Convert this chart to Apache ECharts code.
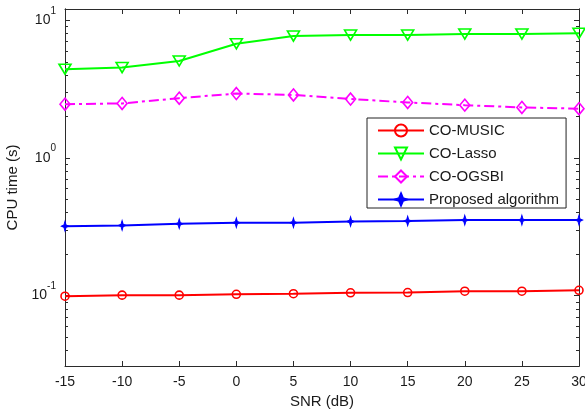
<!DOCTYPE html>
<html>
<head>
<meta charset="utf-8">
<script src="https://cdn.jsdelivr.net/npm/echarts@6/dist/echarts.min.js"></script>
<style>
html,body{margin:0;padding:0;background:#fff;}
#chart{width:585px;height:413px;}
</style>
</head>
<body>
<div id="chart"></div>
<script>
const snr = [-15, -10, -5, 0, 5, 10, 15, 20, 25, 30];
const coMusic = [0.0988, 0.1005, 0.1005, 0.102, 0.103, 0.1046, 0.105, 0.1074, 0.1074, 0.109];
const coLasso = [4.42, 4.54, 5.07, 6.76, 7.69, 7.82, 7.82, 7.96, 7.96, 8.05];
const coOgsbi = [2.46, 2.49, 2.72, 2.94, 2.87, 2.68, 2.53, 2.42, 2.33, 2.28];
const proposed = [0.319, 0.323, 0.332, 0.338, 0.338, 0.345, 0.348, 0.353, 0.353, 0.353];
const seriesNames = ['CO-MUSIC', 'CO-Lasso', 'CO-OGSBI', 'Proposed algorithm'];
const yMajorTicks = [0.1, 1, 10];
const yMinorTicks = [0.04, 0.05, 0.06, 0.07, 0.08, 0.09, 0.2, 0.3, 0.4, 0.5, 0.6, 0.7, 0.8, 0.9, 2, 3, 4, 5, 6, 7, 8, 9];
const yMin = 0.0307, yMax = 12.1;
const xMin = -15, xMax = 30, xStep = 5;

const FONT = '"Liberation Sans", Arial, sans-serif';
const AX = '#2b2b2b';
const TXT = '#1a1a1a';

function pairs(vals) { return snr.map((x, i) => [x, vals[i]]); }

const chart = echarts.init(document.getElementById('chart'), null, {renderer: 'canvas'});

function yAxisDef(pos, ticks, len, labels) {
  return {
    type: 'log', logBase: 10, min: yMin, max: yMax, position: pos,
    axisLine: {show: true, onZero: false, lineStyle: {color: AX, width: 1}},
    axisTick: {show: true, inside: true, length: len, customValues: ticks, lineStyle: {color: AX, width: 1}},
    splitLine: {show: false},
    axisLabel: labels ? {
      show: true, customValues: yMajorTicks, margin: 9, color: TXT, fontFamily: FONT,
      formatter: function (v) { const e = Math.round(Math.log10(v)); return '{b|10}{s|' + e + '}'; },
      rich: {
        b: {fontSize: 14, lineHeight: 14, fontFamily: FONT, color: TXT, verticalAlign: 'middle'},
        s: {fontSize: 10, lineHeight: 10, fontFamily: FONT, color: TXT, verticalAlign: 'middle', padding: [0, 0, 19, 0]}
      }
    } : {show: false},
    name: labels ? 'CPU time (s)' : '',
    nameLocation: 'middle', nameGap: 33,
    nameTextStyle: {fontSize: 15, fontFamily: FONT, color: TXT}
  };
}

function xAxisDef(pos, labels) {
  return {
    type: 'value', min: xMin, max: xMax, interval: xStep, position: pos,
    axisLine: {show: true, onZero: false, lineStyle: {color: AX, width: 1}},
    axisTick: {show: true, inside: true, length: 5, lineStyle: {color: AX, width: 1}},
    splitLine: {show: false},
    axisLabel: labels ? {show: true, margin: 9, fontSize: 14, fontFamily: FONT, color: TXT} : {show: false},
    name: labels ? 'SNR (dB)' : '',
    nameLocation: 'middle', nameGap: 25,
    nameTextStyle: {fontSize: 15, fontFamily: FONT, color: TXT}
  };
}

const starPath = 'path://M0,-6 L1.3,-1.3 L4,0 L1.3,1.3 L0,6 L-1.3,1.3 L-4,0 L-1.3,-1.3 Z';

const option = {
  backgroundColor: '#ffffff',
  animation: false,
  grid: {left: 65, right: 6, top: 9, bottom: 47, outerBoundsMode: 'none', containLabel: false},
  xAxis: [xAxisDef('bottom', true), xAxisDef('top', false)],
  yAxis: [
    yAxisDef('left', yMajorTicks, 5, true),
    yAxisDef('left', yMinorTicks, 3, false),
    yAxisDef('right', yMajorTicks, 5, false),
    yAxisDef('right', yMinorTicks, 3, false)
  ],
  legend: {
    data: seriesNames,
    orient: 'vertical',
    left: 367, top: 118,
    padding: [5, 7, 1, 10],
    itemGap: 8,
    itemWidth: 46, itemHeight: 15,
    backgroundColor: '#ffffff',
    borderColor: '#222222', borderWidth: 1, borderRadius: 0,
    textStyle: {fontSize: 15, lineHeight: 15, fontFamily: FONT, color: TXT}
  },
  series: [
    {
      name: seriesNames[0], type: 'line', data: pairs(coMusic),
      symbol: 'circle', symbolSize: 8,
      lineStyle: {color: '#ff0000', width: 2},
      itemStyle: {color: 'rgba(255,255,255,0)', borderColor: '#ff0000', borderWidth: 1.6}
    },
    {
      name: seriesNames[1], type: 'line', data: pairs(coLasso),
      symbol: 'triangle', symbolRotate: 180, symbolSize: [12, 10],
      lineStyle: {color: '#00ff00', width: 2},
      itemStyle: {color: 'rgba(255,255,255,0)', borderColor: '#00ff00', borderWidth: 1.6}
    },
    {
      name: seriesNames[2], type: 'line', data: pairs(coOgsbi),
      symbol: 'diamond', symbolSize: [10, 12],
      lineStyle: {color: '#ff00ff', width: 2, type: [10, 4, 3, 4]},
      itemStyle: {color: 'rgba(255,255,255,0)', borderColor: '#ff00ff', borderWidth: 1.6}
    },
    {
      name: seriesNames[3], type: 'line', data: pairs(proposed),
      symbol: starPath, symbolSize: [7, 10],
      lineStyle: {color: '#0000ff', width: 2},
      itemStyle: {color: '#0000ff', borderColor: '#0000ff', borderWidth: 1}
    }
  ]
};
chart.setOption(option);
</script>
</body>
</html>
